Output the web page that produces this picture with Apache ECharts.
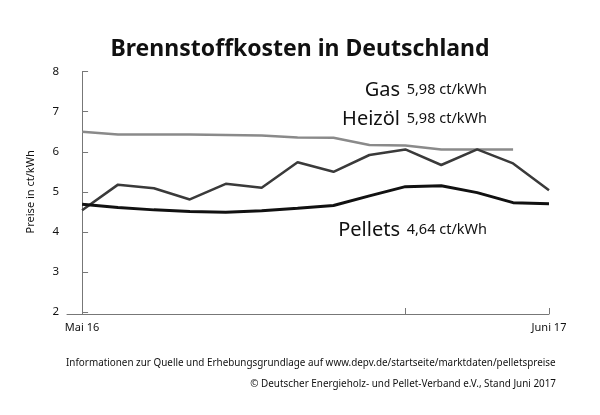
<!DOCTYPE html>
<html><head><meta charset="utf-8">
<script src="https://cdn.jsdelivr.net/npm/echarts@6/dist/echarts.min.js"></script>
<style>html,body{margin:0;padding:0;background:#fff}#c{width:600px;height:415px}</style>
</head><body><div id="c"></div>
<script>
const months = ["Mai 16","Jun 16","Jul 16","Aug 16","Sep 16","Okt 16","Nov 16","Dez 16","Jan 17","Feb 17","Mär 17","Apr 17","Mai 17","Juni 17"];
const gas = [6.50,6.43,6.43,6.43,6.42,6.41,6.36,6.35,6.17,6.16,6.06,6.06,6.06];
const heizoel = [4.54,5.18,5.09,4.81,5.20,5.10,5.74,5.50,5.92,6.06,5.67,6.06,5.71,5.04];
const pellets = [4.69,4.61,4.55,4.51,4.49,4.53,4.59,4.66,4.90,5.13,5.15,4.98,4.73,4.70];
const yTicks = [2,3,4,5,6,7,8];
const xTickIdx = [0,9,13];
const xLabelIdx = [0,13];

const font = "'Noto Sans', sans-serif";
const toPts = arr => arr.map((v,i)=>[i,v]);
const chart = echarts.init(document.getElementById('c'), null, {renderer:'canvas'});
chart.setOption({
  animation:false,
  backgroundColor:'#fff',
  textStyle:{fontFamily:font},
  title:{text:'Brennstoffkosten in Deutschland', left:'center', top:33,
    textStyle:{fontFamily:font, fontSize:23, fontWeight:'bold', color:'#111'}},
  grid:{left:67, right:51, top:71.7, bottom:103},
  xAxis:{type:'value', min:-0.42, max:13, offset:2,
    axisLine:{show:true, lineStyle:{color:'#777', width:1}},
    axisTick:{show:true, inside:true, length:6, customValues:xTickIdx, lineStyle:{color:'#777'}},
    axisLabel:{customValues:xLabelIdx, formatter:v=>months[Math.round(v)], color:'#111', fontSize:11, margin:8},
    splitLine:{show:false}},
  yAxis:{type:'value', min:2, max:8, interval:1,
    name:'Preise in ct/kWh', nameLocation:'middle', nameGap:31, nameRotate:90,
    nameTextStyle:{fontSize:11, color:'#111'},
    axisLine:{show:true, lineStyle:{color:'#777', width:1}},
    axisTick:{show:true, inside:true, length:6, lineStyle:{color:'#777'}},
    axisLabel:{color:'#111', fontSize:11.5, margin:8},
    splitLine:{show:false}},
  series:[
    {name:'Gas', type:'line', data:toPts(gas), symbol:'none', lineStyle:{color:'#8a8a8a', width:2.5}},
    {name:'Heizöl', type:'line', data:toPts(heizoel), symbol:'none', lineStyle:{color:'#3a3a3a', width:2.5}},
    {name:'Pellets', type:'line', data:toPts(pellets), symbol:'none', lineStyle:{color:'#111', width:3}}
  ],
  graphic:[
    {type:'text', right:113, top:80, style:{text:'{a|Gas}  {b|5,98 ct/kWh}', rich:{a:{fontSize:20, fontFamily:font, fill:'#111'}, b:{fontSize:14.5, fontFamily:font, fill:'#111'}}}},
    {type:'text', right:113, top:109, style:{text:'{a|Heizöl}  {b|5,98 ct/kWh}', rich:{a:{fontSize:20, fontFamily:font, fill:'#111'}, b:{fontSize:14.5, fontFamily:font, fill:'#111'}}}},
    {type:'text', right:113, top:220, style:{text:'{a|Pellets}  {b|4,64 ct/kWh}', rich:{a:{fontSize:20, fontFamily:font, fill:'#111'}, b:{fontSize:14.5, fontFamily:font, fill:'#111'}}}},
    {type:'text', left:66, top:358, style:{text:'Informationen zur Quelle und Erhebungsgrundlage auf www.depv.de/startseite/marktdaten/pelletspreise', fontSize:9.9, fontFamily:font, fill:'#111'}},
    {type:'text', right:44, top:379, style:{text:'© Deutscher Energieholz- und Pellet-Verband e.V., Stand Juni 2017', fontSize:9.9, fontFamily:font, fill:'#111'}}
  ]
});
</script></body></html>
